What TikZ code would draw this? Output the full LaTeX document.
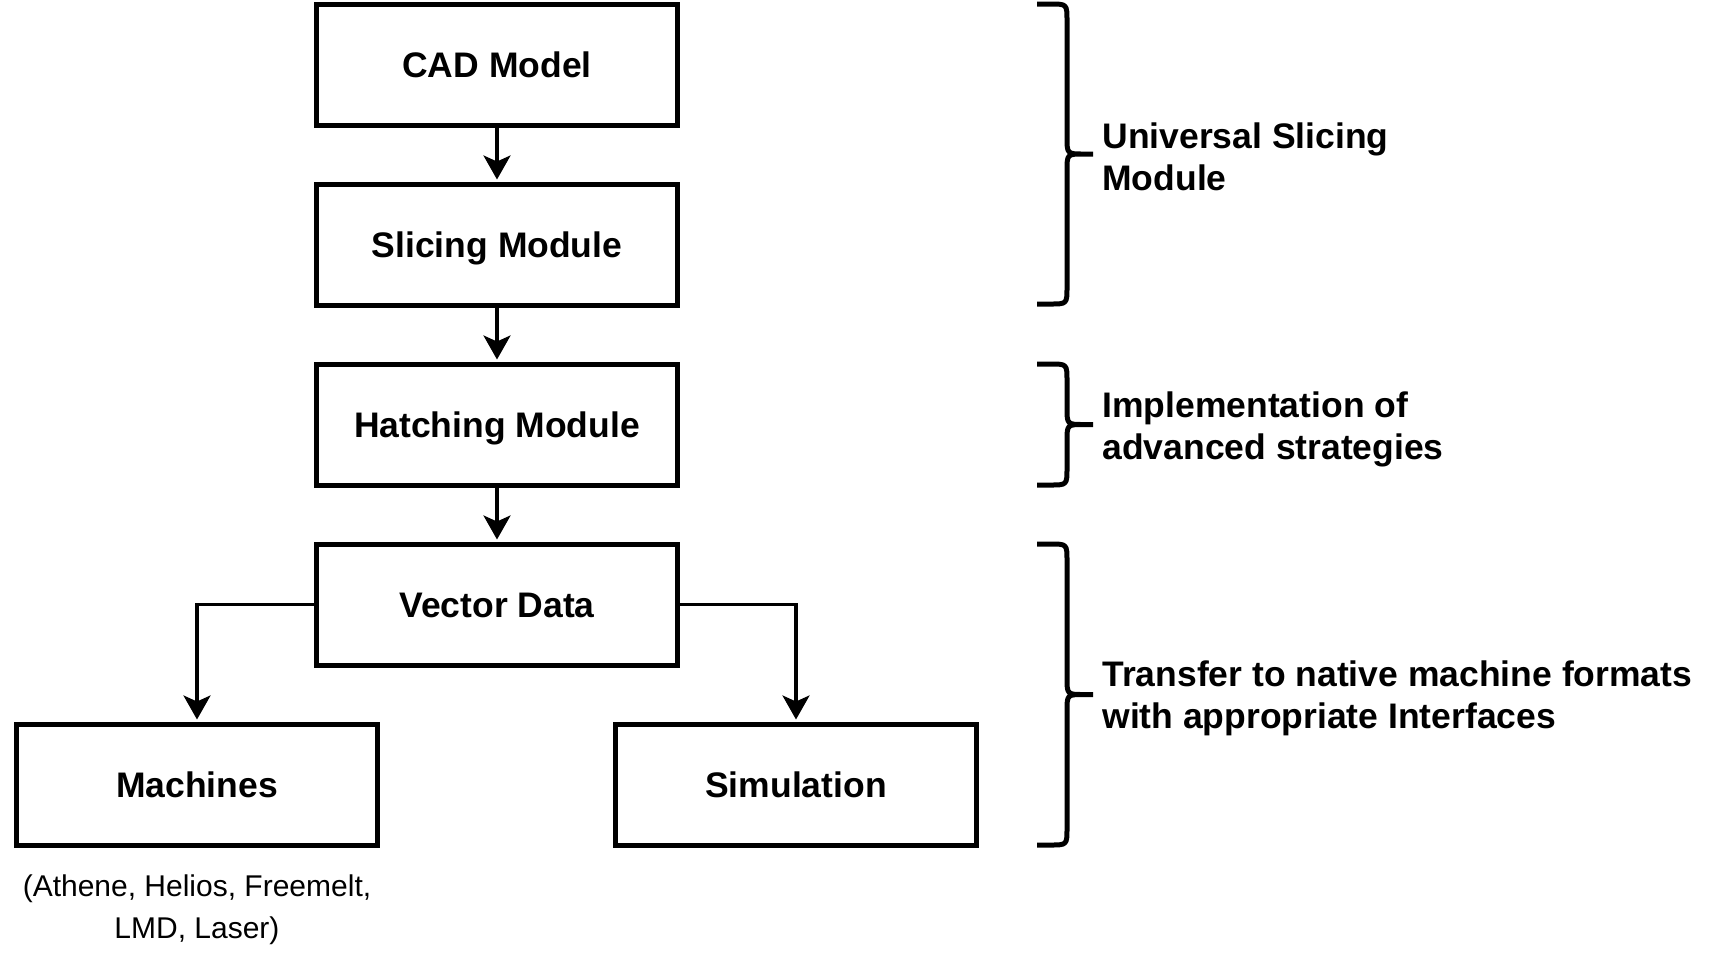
\documentclass[tikz,border=0pt]{standalone}
\usepackage{fontspec}
\setmainfont{Liberation Sans}
\usetikzlibrary{arrows.meta}
\tikzset{
  x=0.5pt, y=-0.5pt,
  box/.style={draw=black, line width=2.5pt, fill=white, minimum width=180.5pt, minimum height=60.5pt,
    inner sep=0pt, text height=12.7pt, text depth=0pt, font=\fontsize{17.75}{21}\selectfont\bfseries},
  conn/.style={line width=1.65pt, -{Stealth[length=12pt, width=13.5pt, inset=3pt]}, shorten >=1pt},
  bracestyle/.style={line width=2.5pt, line join=round},
  note/.style={anchor=base west, align=left, inner sep=0pt, font=\fontsize{17.75}{21}\selectfont\bfseries},
  caption/.style={align=center, inner sep=0pt, font=\fontsize{15}{21}\selectfont}
}
\begin{document}
\begin{tikzpicture}
\useasboundingbox (0,0) rectangle (1731,966);
% boxes
\node[box] (cad) at (497,64.5) {CAD Model};
\node[box] (slice) at (497,244.5) {Slicing Module};
\node[box] (hatch) at (497,424.5) {Hatching Module};
\node[box] (vd) at (497,604.5) {Vector Data};
\node[box] (mach) at (197,784.5) {Machines};
\node[box] (sim) at (796,784.5) {Simulation};
% caption
\node[caption] (cap) at (197,910) {(Athene, Helios, Freemelt,\\LMD, Laser)};
% connectors
\draw[conn] (cad) -- (slice);
\draw[conn] (slice) -- (hatch);
\draw[conn] (hatch) -- (vd);
\draw[conn] (vd.west) -| (mach.north);
\draw[conn] (vd.east) -| (sim.north);
% braces
\draw[bracestyle] (1037,4) -- (1050,4) .. controls (1067,4) .. (1067,21) -- (1067,137) .. controls (1067,154) .. (1084,154) -- (1093,154)
  (1084,154) .. controls (1067,154) .. (1067,171) -- (1067,287) .. controls (1067,304) .. (1050,304) -- (1037,304);
\draw[bracestyle] (1037,364) -- (1050,364) .. controls (1067,364) .. (1067,381) -- (1067,407.5) .. controls (1067,424.5) .. (1084,424.5) -- (1093,424.5)
  (1084,424.5) .. controls (1067,424.5) .. (1067,441.5) -- (1067,468) .. controls (1067,485) .. (1050,485) -- (1037,485);
\draw[bracestyle] (1037,544) -- (1050,544) .. controls (1067,544) .. (1067,561) -- (1067,677.5) .. controls (1067,694.5) .. (1084,694.5) -- (1093,694.5)
  (1084,694.5) .. controls (1067,694.5) .. (1067,711.5) -- (1067,828) .. controls (1067,845) .. (1050,845) -- (1037,845);
% notes
\node[note] (n1) at (1102,190.5) {Universal Slicing\\Module};
\node[note] (n2) at (1102,459) {Implementation of\\advanced strategies};
\node[note] (n3) at (1102,728) {Transfer to native machine formats\\with appropriate Interfaces};
\end{tikzpicture}
\end{document}
